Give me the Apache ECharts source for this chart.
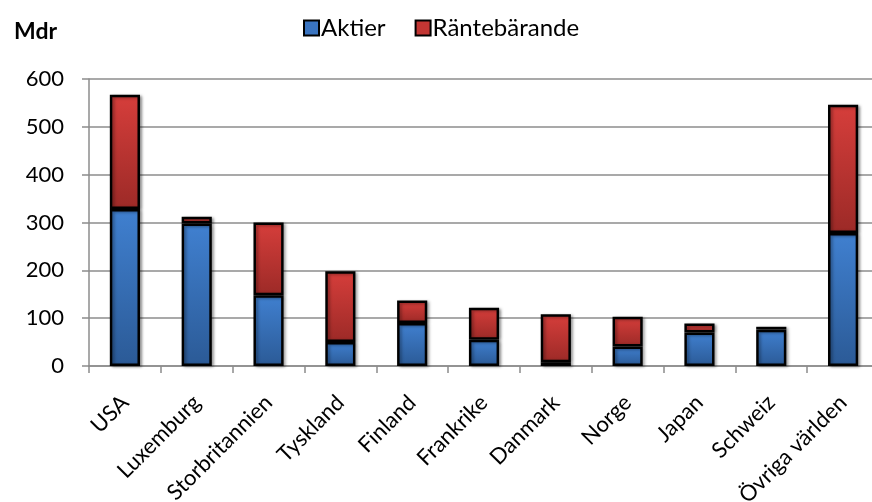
<!DOCTYPE html>
<html><head><meta charset="utf-8">
<script src="https://cdn.jsdelivr.net/npm/echarts@6/dist/echarts.min.js"></script>
<style>html,body{margin:0;padding:0;background:#fff}#c{width:872px;height:502px}</style>
</head><body><div id="c"></div>
<script>
var categories = ['USA','Luxemburg','Storbritannien','Tyskland','Finland','Frankrike','Danmark','Norge','Japan','Schweiz','Övriga världen'];
var aktier = [328, 298, 148, 50, 90, 55, 8, 41, 70, 76, 278];
var rantebarande = [239, 14, 152, 148, 47, 67, 100, 62, 19, 6, 268];
var yTicks = [0, 100, 200, 300, 400, 500, 600];
var seriesNames = ['Aktier', 'Räntebärande'];

var FONT = 'Lato';
function grad(top, bottom) {
  return new echarts.graphic.LinearGradient(0, 0, 0, 1, [{offset:0,color:top},{offset:1,color:bottom}]);
}
var chart = echarts.init(document.getElementById('c'), null, {renderer:'canvas'});
var barStyle = function(top,bottom){return {
  color: grad(top,bottom), borderColor:'#000', borderWidth:2.5,
  shadowColor:'rgba(0,0,0,0.35)', shadowBlur:3, shadowOffsetX:2, shadowOffsetY:1
};};
chart.setOption({
  animation:false,
  textStyle:{fontFamily:FONT},
  title:{text:'Mdr', left:9, top:15, textStyle:{fontFamily:FONT, fontWeight:'bold', fontSize:23, color:'#000'}},
  legend:{
    data:[
      {name:seriesNames[0], itemStyle:{color:'#3a74c0', borderColor:'#000', borderWidth:2}},
      {name:seriesNames[1], itemStyle:{color:'#c23633', borderColor:'#000', borderWidth:2}}
    ],
    icon:'rect', left:298, top:11, itemWidth:15, itemHeight:15, itemGap:29,
    textStyle:{fontFamily:FONT, fontSize:24, color:'#000', padding:[0,0,0,-3]}
  },
  grid:{left:89, right:-7, top:79, bottom:136, outerBoundsMode:'none', containLabel:false},
  xAxis:{
    type:'category', data:categories, boundaryGap:true,
    axisLine:{lineStyle:{color:'#8c8c8c', width:1.5}},
    axisTick:{show:true, length:7, lineStyle:{color:'#8c8c8c', width:1.5}},
    axisLabel:{rotate:45, interval:0, margin:33, fontFamily:FONT, fontSize:22, color:'#000'}
  },
  yAxis:{
    type:'value', min:0, max:600, interval:100,
    axisLine:{show:true, lineStyle:{color:'#8c8c8c', width:1.5}},
    axisTick:{show:true, length:7, lineStyle:{color:'#8c8c8c', width:1.5}},
    splitLine:{show:true, lineStyle:{color:'#8c8c8c', width:1.5}},
    axisLabel:{margin:25, fontFamily:FONT, fontSize:22, color:'#000',
      formatter:function(v){return yTicks.indexOf(v)>=0?String(v):'';}}
  },
  series:[
    {name:seriesNames[0], type:'bar', stack:'s', data:aktier, barWidth:'42%', itemStyle:barStyle('#4080d0','#2b5a96')},
    {name:seriesNames[1], type:'bar', stack:'s', data:rantebarande, barWidth:'42%', itemStyle:barStyle('#d63e3b','#9c2a27')}
  ]
});
</script></body></html>
